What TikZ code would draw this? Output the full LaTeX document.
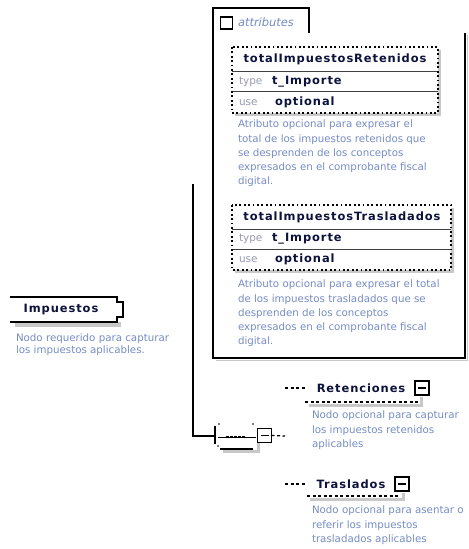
\documentclass[tikz,border=0pt]{standalone}
\usepackage{fontspec}
\setmainfont{DejaVu Sans}
\newfontfamily\namefont{DejaVu Sans}[LetterSpace=8]
\usetikzlibrary{positioning}
\definecolor{desccolor}{RGB}{118,140,196}
\definecolor{namecolor}{RGB}{12,18,60}
\definecolor{keycolor}{RGB}{150,155,178}
\definecolor{shadecolor}{RGB}{200,200,200}
\tikzset{
	every node/.append style={
		inner sep=0pt,
		outer sep=0pt,
	},
	elname/.style={
		text=namecolor,
		font={\namefont\bfseries\fontsize{11.5}{13}\selectfont}
	},
	desc/.style={
		anchor=north west,
		align=left,
		text=desccolor,
		font={\fontsize{10.3}{14.3}\selectfont}
	},
	keylabel/.style={
		anchor=west,
		text=keycolor,
		font={\fontsize{10.5}{12}\selectfont}
	},
	keyvalue/.style={
		elname,
		anchor=west,
	},
	frame/.style={
		draw,
		line width=1.4bp,
	},
	attrbox/.style={
		draw,
		line width=1.8bp,
		dash pattern=on 1.8bp off 2.6bp,
	},
	rowline/.style={
		draw=black!75,
		line width=1bp,
	},
	minusbox/.style={
		draw,
		line width=1.3bp,
		minimum width=14bp,
		minimum height=14bp,
	},
	greyshade/.style={
		draw=shadecolor,
		line width=3bp,
	},
	optline/.style={
		line width=1.2bp,
		dash pattern=on 3bp off 2.5bp,
	},
}

\begin{document}
\begin{tikzpicture}[x=1bp,y=-1bp]
	\useasboundingbox[fill=white] (0,0) rectangle (469,549);

	% element Impuestos
	\fill[shadecolor] (15,322) rectangle (121,326.5);
	\draw[frame] (10,297) -- (117,297) -- (117,302) -- (123,302) -- (123,317) -- (117,317) -- (117,322) -- (10,322);
	\node[elname] (impuestos) at (61,309.5) {Impuestos};
	\node[desc, font={\fontsize{10.3}{12}\selectfont}] (impdesc) at (16,334)
		{Nodo requerido para capturar\\los impuestos aplicables.};

	% attributes frame
	\draw[shadecolor, line width=1.2bp] (216,360.5) -- (467.5,360.5) -- (467.5,35);
	\draw[frame] (309,33) -- (309,8) -- (213,8) -- (213,358) -- (465,358) -- (465,33);
	\node[draw, line width=1.3bp, minimum size=12bp] (attrchk) at (226.5,23) {};
	\node[anchor=west, text=desccolor, font={\itshape\fontsize{11.5}{12}\selectfont}] (attrlabel) at (238,22.5) {attributes};

	% totalImpuestosRetenidos
	\fill[shadecolor] (235,50) rectangle (441,116);
	\fill[white] (232,47) rectangle (438,113);
	\draw[rowline] (232,72) -- (438,72) (232,92) -- (438,92);
	\draw[attrbox] (232,47) rectangle (438,113);
	\node[elname] (retattr) at (335,59.5) {totalImpuestosRetenidos};
	\node[keylabel] (rettype) at (239,82) {type};
	\node[keyvalue] (rettypeval) at (272,82) {t\_Importe};
	\node[keylabel] (retuse) at (239,102.5) {use};
	\node[keyvalue] (retuseval) at (275,102.5) {optional};
	\node[desc] (retdesc) at (238,120)
		{Atributo opcional para expresar el\\total de los impuestos retenidos que\\se desprenden de los conceptos\\expresados en el comprobante fiscal\\digital.};

	% totalImpuestosTrasladados
	\fill[shadecolor] (235,208) rectangle (454,273);
	\fill[white] (232,205) rectangle (451,270);
	\draw[rowline] (232,229) -- (451,229) (232,249) -- (451,249);
	\draw[attrbox] (232,205) rectangle (451,270);
	\node[elname] (trasattr) at (342,217) {totalImpuestosTrasladados};
	\node[keylabel] (trastype) at (239,239) {type};
	\node[keyvalue] (trastypeval) at (272,239) {t\_Importe};
	\node[keylabel] (trasuse) at (239,259.5) {use};
	\node[keyvalue] (trasuseval) at (275,259.5) {optional};
	\node[desc] (trasdesc) at (238,280)
		{Atributo opcional para expresar el total\\de los impuestos trasladados que se\\desprenden de los conceptos\\expresados en el comprobante fiscal\\digital.};

	% sequence compositor
	\coordinate (attrlink) at (193,184);
	\node[minimum width=40bp, minimum height=20bp] (seq) at (235,436) {};
	\draw[greyshade] (223,451.5) -- (258.5,451.5) -- (258.5,443);
	\draw[line width=1.4bp] (215,426) -- (215,444);
	\draw[line width=1.4bp] (220,449) -- (253,449);
	\fill (219,424) circle (0.9) (253,424) circle (0.9) (218,446) circle (0.9);
	\draw[line width=1bp] (218,437) -- (256,437);
	\draw[line width=2.2bp, dash pattern=on 2.5bp off 1.6bp] (226,437) -- (245,437);
	\node[minusbox, fill=white] (seqbox) at (264.5,435.5) {};
	\draw[line width=1.2bp] ([xshift=3bp]seqbox.west) -- ([xshift=-3bp]seqbox.east);
	\draw[line width=1.4bp] (attrlink) |- (seq.west);
	\coordinate (branch) at (285,436);
	\draw[optline] (seqbox.east) -- (branch);

	% element Retenciones
	\coordinate (retlink) at (285,388);
	\draw[greyshade] (309,405) -- (421.5,405) -- (421.5,397);
	\draw[optline] (305,402) -- (418,402);
	\node[elname] (retenciones) at (361,388) {Retenciones};
	\node[minusbox] (retbox) at (422,388) {};
	\draw[line width=1.2bp] ([xshift=3bp]retbox.west) -- ([xshift=-3bp]retbox.east);
	\draw[optline] (retlink) -- ++(20,0);
	\node[desc] (retendesc) at (312,411)
		{Nodo opcional para capturar\\los impuestos retenidos\\aplicables};

	% element Traslados
	\coordinate (traslink) at (285,484);
	\draw[greyshade] (310,499) -- (403.5,499) -- (403.5,493);
	\draw[optline] (307,496) -- (400,496);
	\node[elname] (traslados) at (351,484) {Traslados};
	\node[minusbox] (trasbox) at (402,484) {};
	\draw[line width=1.2bp] ([xshift=3bp]trasbox.west) -- ([xshift=-3bp]trasbox.east);
	\draw[optline] (traslink) -- ++(20,0);
	\node[desc] (trasldesc) at (312,506)
		{Nodo opcional para asentar o\\referir los impuestos\\trasladados aplicables};
\end{tikzpicture}
\end{document}
